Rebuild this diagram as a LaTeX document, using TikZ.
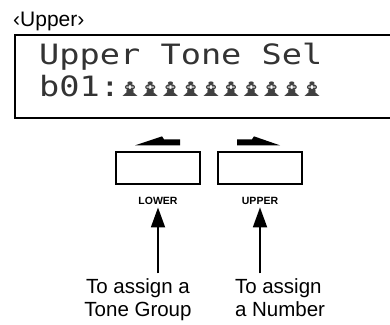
\documentclass[tikz,border=0pt]{standalone}
\usepackage{fontspec}
\setmainfont{Liberation Sans}
\newfontfamily\lcdfont[FakeStretch=1.2]{DejaVu Sans Mono}
\newfontfamily\symfont{DejaVu Sans}
\usetikzlibrary{arrows.meta,positioning}
\newlength\lcdpitch
\setlength\lcdpitch{20.2pt}
\newcommand\lcdglyph{\makebox[\lcdpitch]{\symfont\fontsize{19}{19}\selectfont\color{black!75}\scalebox{1.7}[1.05]{♝}}}

\begin{document}
\begin{tikzpicture}[x=1pt, y=1pt,
    lcdline/.style={anchor=base west, inner sep=0, text=black!80, font=\lcdfont\fontsize{28}{28}\selectfont},
    key/.style={rectangle, draw, line width=1.3pt, minimum width=84pt, minimum height=32pt},
    keylabel/.style={inner sep=0, font=\bfseries\fontsize{10.5}{12}\selectfont},
    note/.style={inner sep=0, align=center, font=\fontsize{20.5}{23}\selectfont},
    uparrow/.style={-{Triangle[length=20pt, width=14pt]}, line width=1.8pt, shorten <=5pt, shorten >=3pt}
]
\useasboundingbox (0,0) rectangle (390,324);

% title and display
\node[anchor=base west, inner sep=0, font=\fontsize{21}{21}\selectfont] (title) at (13,297) {‹Upper›};
\draw[line width=1.5pt] (390,289) -| (15,206) -- (390,206);
\node[lcdline] (row1) at (39,259) {Upper Tone Sel};
\node[lcdline] (row2) at (39,227) {b01:\lcdglyph\lcdglyph\lcdglyph\lcdglyph\lcdglyph\lcdglyph\lcdglyph\lcdglyph\lcdglyph\lcdglyph};

% keys
\node[key] (lowerkey) at (158,156) {};
\node[key] (upperkey) at (260,156) {};
\node[keylabel, below=12pt of lowerkey] (lowerlbl) {LOWER};
\node[keylabel, below=12pt of upperkey] (upperlbl) {UPPER};

% direction marks
\fill ([shift={(-23,6)}]lowerkey.north) -- ++(27,9) -- ++(2,-3) -- ++(16,0) -- ++(0,-6) -- cycle;
\fill ([shift={(-23,6)}]upperkey.north) -- ++(0,6) -- ++(15,0) -- ++(2,3) -- ++(26,-9) -- cycle;

% notes
\node[note, below=74pt of lowerlbl, xshift=-20pt] (lowernote) {To assign a\\Tone Group};
\node[note, align=left, below=74pt of upperlbl, xshift=20pt] (uppernote) {To assign\\a Number};
\draw[uparrow] (lowernote.north -| lowerlbl) -- (lowerlbl);
\draw[uparrow] (uppernote.north -| upperlbl) -- (upperlbl);
\end{tikzpicture}
\end{document}
